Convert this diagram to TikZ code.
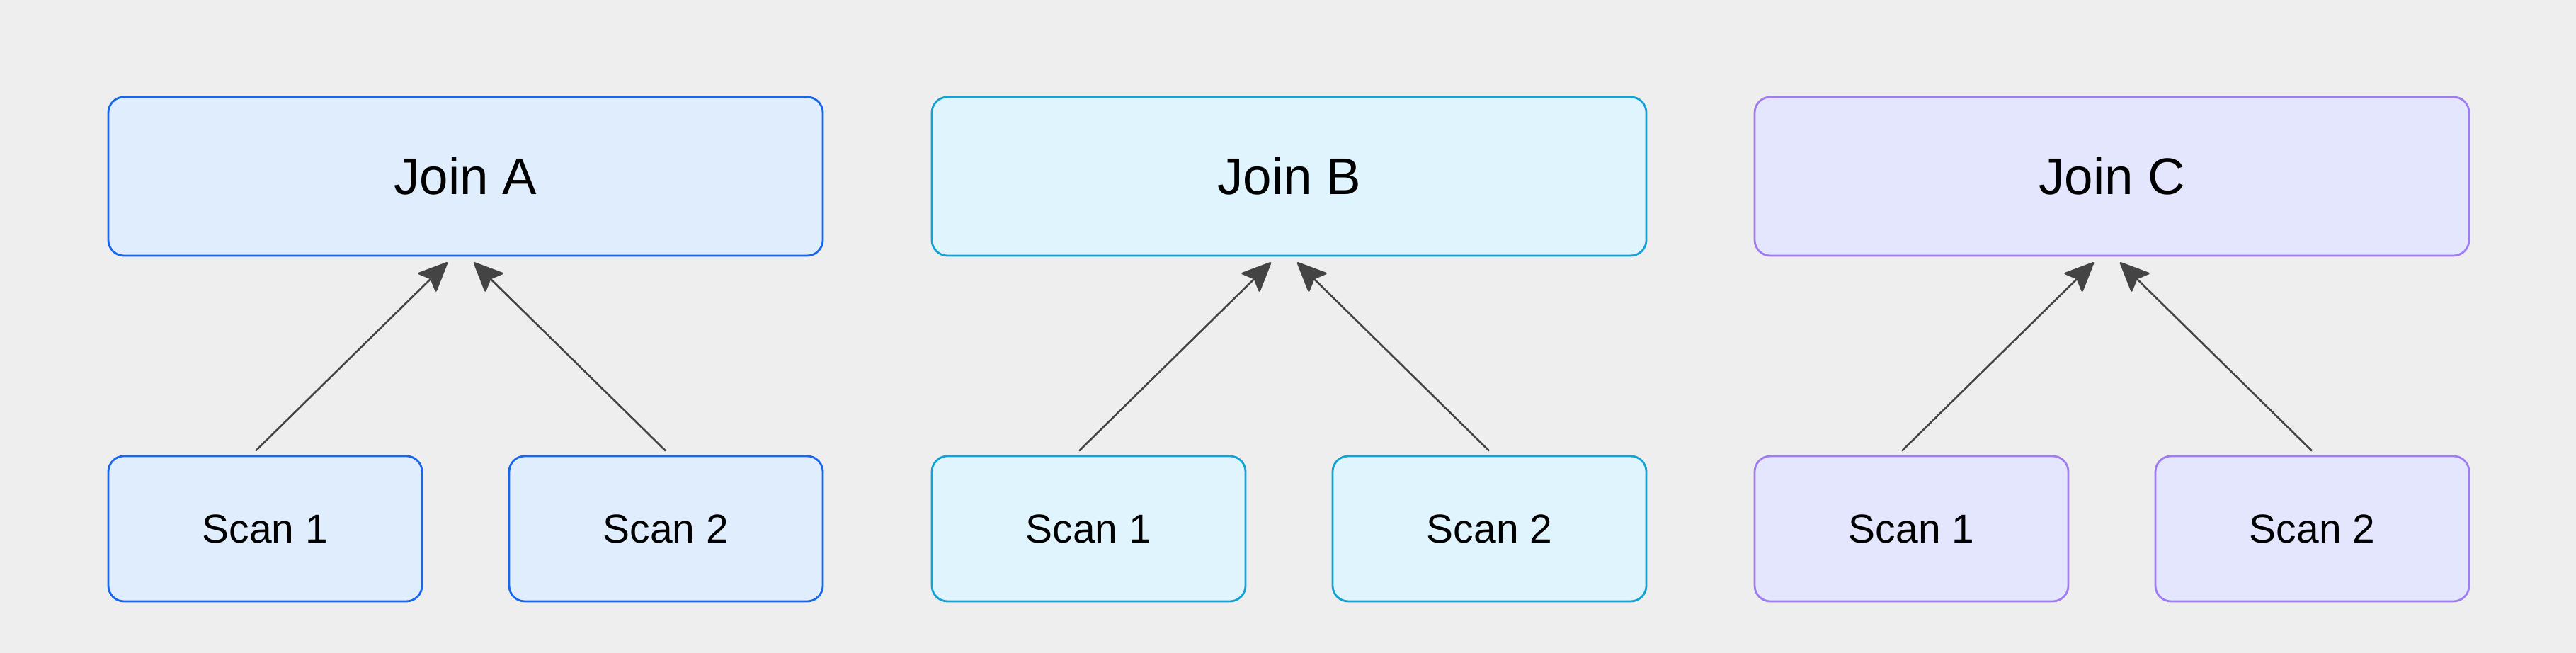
\documentclass[tikz,border=0pt]{standalone}
\usepackage{fontspec}
\setmainfont{Liberation Sans}
\usetikzlibrary{arrows.meta}

\definecolor{bgGray}{HTML}{EEEEEE}
\definecolor{fillA}{HTML}{E0EDFD}
\definecolor{lineA}{HTML}{1766F0}
\definecolor{fillB}{HTML}{E0F4FE}
\definecolor{lineB}{HTML}{12A3D6}
\definecolor{fillC}{HTML}{E3E6FC}
\definecolor{lineC}{HTML}{A07CF4}
\definecolor{arrowGray}{HTML}{444444}

\tikzset{
  joinbox/.style={rectangle, rounded corners=0.22cm, line width=0.8pt,
    minimum width=10.09cm, minimum height=2.24cm,
    font=\fontsize{20.7pt}{24pt}\selectfont},
  scanbox/.style={rectangle, rounded corners=0.22cm, line width=0.8pt,
    minimum width=4.43cm, minimum height=2.05cm,
    font=\fontsize{16.2pt}{19pt}\selectfont},
  feed/.style={draw=arrowGray, line width=0.75pt,
    -{Stealth[length=0.44cm, width=0.39cm, inset=0.08cm, round]}}
}

\begin{document}
\begin{tikzpicture}

\fill[bgGray] (0,0) rectangle (36.38,9.22);
\useasboundingbox (0,0) rectangle (36.38,9.22);

\begin{scope}[every node/.append style={draw=lineA, fill=fillA}]
  \node[joinbox] (Join_A)  at ( 6.575,6.73)  {Join A};
  \node[scanbox] (Scan_A1) at ( 3.745,1.755) {Scan 1};
  \node[scanbox] (Scan_A2) at ( 9.405,1.755) {Scan 2};
\end{scope}

\begin{scope}[every node/.append style={draw=lineB, fill=fillB}]
  \node[joinbox] (Join_B)  at (18.205,6.73)  {Join B};
  \node[scanbox] (Scan_B1) at (15.375,1.755) {Scan 1};
  \node[scanbox] (Scan_B2) at (21.035,1.755) {Scan 2};
\end{scope}

\begin{scope}[every node/.append style={draw=lineC, fill=fillC}]
  \node[joinbox] (Join_C)  at (29.825,6.73)  {Join C};
  \node[scanbox] (Scan_C1) at (26.995,1.755) {Scan 1};
  \node[scanbox] (Scan_C2) at (32.655,1.755) {Scan 2};
\end{scope}

\begin{scope}[feed]
\draw ([xshift=-0.135cm, yshift=0.06cm]Scan_A1.north) -- ([xshift=-0.255cm, yshift=-0.08cm]Join_A.south);
\draw ([xshift=-0.005cm, yshift=0.06cm]Scan_A2.north) -- ([xshift= 0.115cm, yshift=-0.08cm]Join_A.south);

\draw ([xshift=-0.135cm, yshift=0.06cm]Scan_B1.north) -- ([xshift=-0.255cm, yshift=-0.08cm]Join_B.south);
\draw ([xshift=-0.005cm, yshift=0.06cm]Scan_B2.north) -- ([xshift= 0.115cm, yshift=-0.08cm]Join_B.south);

\draw ([xshift=-0.135cm, yshift=0.06cm]Scan_C1.north) -- ([xshift=-0.255cm, yshift=-0.08cm]Join_C.south);
\draw ([xshift=-0.005cm, yshift=0.06cm]Scan_C2.north) -- ([xshift= 0.115cm, yshift=-0.08cm]Join_C.south);
\end{scope}

\end{tikzpicture}
\end{document}
